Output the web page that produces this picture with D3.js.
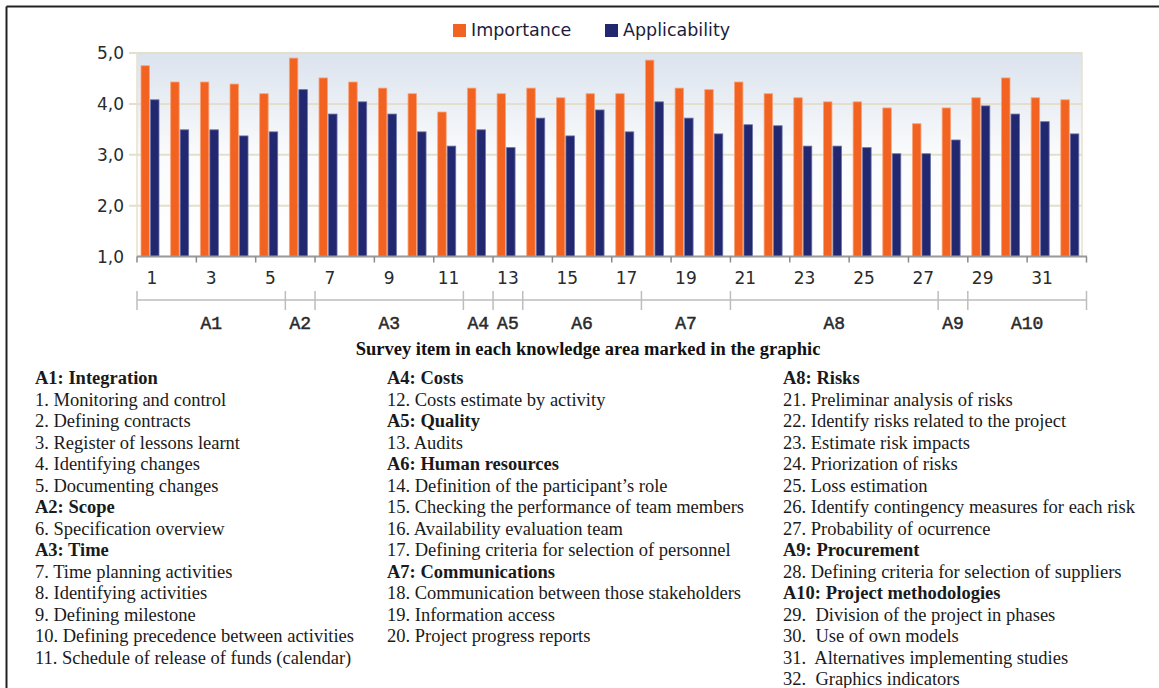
<!DOCTYPE html>
<html>
<head>
<meta charset="utf-8">
<script src="https://cdn.jsdelivr.net/npm/d3@7"></script>
<style>
  body { margin: 0; background: #fff; }
  svg { display: block; }
</style>
</head>
<body>
<div id="chart"></div>
<script>
// survey items 1..32
var items = d3.range(1, 33)
var seriesNames = ["Importance", "Applicability"]
var importance = [4.75, 4.43, 4.43, 4.39, 4.2, 4.9, 4.51, 4.43, 4.31, 4.2,
                  3.84, 4.31, 4.2, 4.31, 4.12, 4.2, 4.2, 4.86, 4.31, 4.28,
                  4.43, 4.2, 4.12, 4.04, 4.04, 3.92, 3.61, 3.92, 4.12, 4.51,
                  4.12, 4.08]
var applicability = [4.08, 3.49, 3.49, 3.37, 3.45, 4.28, 3.8, 4.04, 3.8, 3.45,
                     3.17, 3.49, 3.14, 3.72, 3.37, 3.88, 3.45, 4.04, 3.72, 3.41,
                     3.59, 3.57, 3.17, 3.17, 3.14, 3.02, 3.02, 3.29, 3.96, 3.8,
                     3.65, 3.41]
var yTicks = [1, 2, 3, 4, 5]
// knowledge areas: name, first item, last item
var groups = [["A1", 1, 5], ["A2", 6, 6], ["A3", 7, 11], ["A4", 12, 12], ["A5", 13, 13],
              ["A6", 14, 17], ["A7", 18, 20], ["A8", 21, 27], ["A9", 28, 28], ["A10", 29, 32]]
var axisTitle = "Survey item in each knowledge area marked in the graphic"

var col1 = [["A1: Integration", true], ["1. Monitoring and control"], ["2. Defining contracts"],
            ["3. Register of lessons learnt"], ["4. Identifying changes"], ["5. Documenting changes"],
            ["A2: Scope", true], ["6. Specification overview"], ["A3: Time", true],
            ["7. Time planning activities"], ["8. Identifying activities"], ["9. Defining milestone"],
            ["10. Defining precedence between activities"], ["11. Schedule of release of funds (calendar)"]]
var col2 = [["A4: Costs", true], ["12. Costs estimate by activity"], ["A5: Quality", true],
            ["13. Audits"], ["A6: Human resources", true], ["14. Definition of the participant\u2019s role"],
            ["15. Checking the performance of team members"], ["16. Availability evaluation team"],
            ["17. Defining criteria for selection of personnel"], ["A7: Communications", true],
            ["18. Communication between those stakeholders"], ["19. Information access"],
            ["20. Project progress reports"]]
var col3 = [["A8: Risks", true], ["21. Preliminar analysis of risks"], ["22. Identify risks related to the project"],
            ["23. Estimate risk impacts"], ["24. Priorization of risks"], ["25. Loss estimation"],
            ["26. Identify contingency measures for each risk"], ["27. Probability of ocurrence"],
            ["A9: Procurement", true], ["28. Defining criteria for selection of suppliers"],
            ["A10: Project methodologies", true], ["29.  Division of the project in phases"],
            ["30.  Use of own models"], ["31.  Alternatives implementing studies"], ["32.  Graphics indicators"]]

var width = 1159, height = 688
var colors = {Importance: "#F26322", Applicability: "#22286F"}
var strokes = {Importance: "#F9A47A", Applicability: "#6A70A6"}

var svg = d3.select("#chart").append("svg")
    .attr("width", width)
    .attr("height", height)

// outer frame (top and left only visible)
svg.append("line").attr("x1", 6.5).attr("x2", width).attr("y1", 6.5).attr("y2", 6.5)
    .style("stroke", "#222").style("stroke-width", 2)
svg.append("line").attr("x1", 6.5).attr("x2", 6.5).attr("y1", 6.5).attr("y2", height)
    .style("stroke", "#222").style("stroke-width", 2)

var plotLeft = 137, plotRight = 1082, axisRight = 1087
var x = d3.scaleBand().domain(items).range([plotLeft, 1086.5])
var y = d3.scaleLinear().domain([1, 5]).range([256.5, 53])
var xs = d3.scaleBand().domain(seriesNames).range([3.5, 22.5])

var defs = svg.append("defs")
var grad = defs.append("linearGradient").attr("id", "bg")
    .attr("x1", 0).attr("x2", 0).attr("y1", 0).attr("y2", 1)
grad.append("stop").attr("offset", "0%").attr("stop-color", "#DBE3EE")
grad.append("stop").attr("offset", "50%").attr("stop-color", "#FAFBFC")
grad.append("stop").attr("offset", "100%").attr("stop-color", "#FFFFFF")

svg.append("rect")
    .attr("x", plotLeft).attr("y", y(5))
    .attr("width", plotRight - plotLeft).attr("height", y(1) - y(5))
    .attr("fill", "url(#bg)")
    .style("stroke", "#E6E2D0").style("stroke-width", 1.5)

// gridlines
svg.selectAll(".grid").data(yTicks.slice(1)).enter().append("line")
    .attr("x1", plotLeft - 8).attr("x2", plotRight)
    .attr("y1", function(d){ return y(d) }).attr("y2", function(d){ return y(d) })
    .style("stroke", "#E3DFCB").style("stroke-width", 2)

// y labels
svg.selectAll(".ylab").data(yTicks).enter().append("text")
    .attr("x", 124).attr("y", function(d){ return y(d) + 6 })
    .attr("text-anchor", "end")
    .style("font-family", "DejaVu Sans").style("font-size", "17px").style("fill", "#2a2a2a")
    .text(function(d){ return d.toFixed(1).replace(".", ",") })

// bars
var rows = items.map(function(it, i){
    return {item: it, values: [{k: "Importance", v: importance[i]}, {k: "Applicability", v: applicability[i]}]}
})
var g = svg.selectAll(".item").data(rows).enter().append("g")
    .attr("transform", function(d){ return "translate(" + x(d.item) + ",0)" })
g.selectAll("rect").data(function(d){ return d.values }).enter().append("rect")
    .attr("x", function(d){ return xs(d.k) + 0.5 })
    .attr("width", xs.bandwidth() - 1)
    .attr("y", function(d){ return y(d.v) })
    .attr("height", function(d){ return y(1) - y(d.v) })
    .attr("fill", function(d){ return colors[d.k] })
    .style("stroke", function(d){ return strokes[d.k] })
    .style("stroke-width", 0.8)

// x axis
var axisY = y(1)
svg.append("line").attr("x1", plotLeft).attr("x2", axisRight)
    .attr("y1", axisY).attr("y2", axisY)
    .style("stroke", "#9a9a9a").style("stroke-width", 2)
var tickPos = d3.range(0, 33, 2).map(function(b){ return b < 32 ? x(items[b]) : x.range()[1] })
svg.selectAll(".xtick").data(tickPos).enter().append("line")
    .attr("x1", function(d){ return d }).attr("x2", function(d){ return d })
    .attr("y1", axisY).attr("y2", axisY + 6)
    .style("stroke", "#8a8a8a").style("stroke-width", 1.5)
svg.selectAll(".xlab").data(items.filter(function(d){ return d % 2 == 1 })).enter().append("text")
    .attr("x", function(d){ return x(d) + x.bandwidth() / 2 })
    .attr("y", 284)
    .attr("text-anchor", "middle")
    .style("font-family", "DejaVu Sans").style("font-size", "17px").style("fill", "#2a2a2a")
    .text(function(d){ return d })

// knowledge area bracket
var bY = 300
var bounds = [x(1)].concat(groups.map(function(gr){
    return gr[2] < 32 ? x(gr[2] + 1) : x.range()[1]
}))
svg.append("line").attr("x1", bounds[0]).attr("x2", bounds[bounds.length - 1])
    .attr("y1", bY).attr("y2", bY)
    .style("stroke", "#bdbdbd").style("stroke-width", 1.5)
svg.selectAll(".bsep").data(bounds).enter().append("line")
    .attr("x1", function(d){ return d }).attr("x2", function(d){ return d })
    .attr("y1", bY - 9).attr("y2", bY + 10)
    .style("stroke", "#bdbdbd").style("stroke-width", 1.5)
svg.selectAll(".glab").data(groups).enter().append("text")
    .attr("x", function(d){ return (x(d[1]) + x(d[2]) + x.bandwidth()) / 2 })
    .attr("y", 329)
    .attr("text-anchor", "middle")
    .style("font-family", "Liberation Mono").style("font-size", "18px")
    .style("fill", "#2a2a2a").style("stroke", "#2a2a2a").style("stroke-width", 0.5)
    .text(function(d){ return d[0] })

svg.append("text").attr("x", 588).attr("y", 355).attr("text-anchor", "middle")
    .style("font-family", "Liberation Serif").style("font-size", "18.5px").style("font-weight", "bold")
    .style("fill", "#111")
    .text(axisTitle)

// legend
var legend = svg.selectAll(".leg").data(seriesNames).enter().append("g")
    .attr("transform", function(d, i){ return "translate(" + [453, 605][i] + ",24)" })
legend.append("rect").attr("width", 13).attr("height", 13)
    .attr("fill", function(d){ return colors[d] })
legend.append("text").attr("x", 18).attr("y", 12)
    .style("font-family", "DejaVu Sans").style("font-size", "17.5px").style("fill", "#1c1c3c")
    .text(function(d){ return d })

// description columns
var cols = [[35, col1], [387, col2], [783, col3]]
cols.forEach(function(c){
    svg.selectAll(null).data(c[1]).enter().append("text")
        .attr("x", c[0])
        .attr("y", function(d, i){ return 384 + i * 21.5 })
        .style("font-family", "Liberation Serif").style("font-size", "18.5px")
        .style("font-weight", function(d){ return d[1] ? "bold" : "normal" })
        .style("fill", "#1a1a1a")
        .style("white-space", "pre")
        .text(function(d){ return d[0] })
})
</script>
</body>
</html>
